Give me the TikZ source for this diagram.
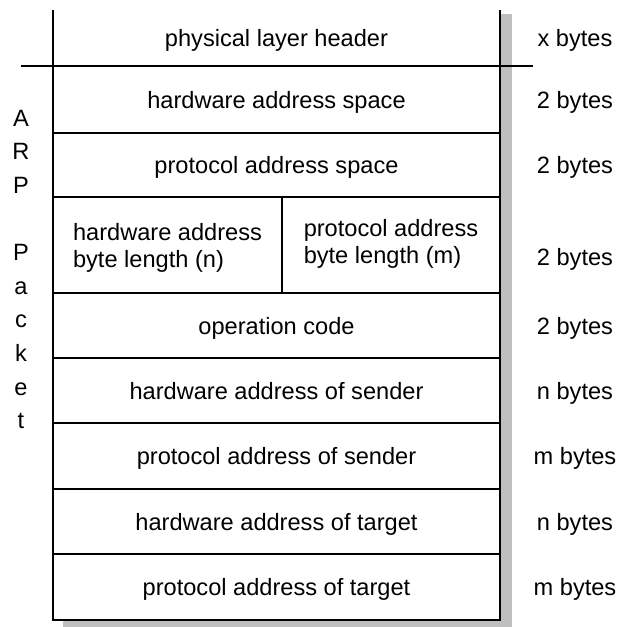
\documentclass[tikz,border=0pt]{standalone}
\usepackage{fontspec}
\setmainfont{Liberation Sans}
\usetikzlibrary{positioning}

\begin{document}
\begin{tikzpicture}[
  font=\fontsize{23.6}{27}\selectfont,
  field/.style={rectangle,draw,fill=white,line width=1.5pt,inner sep=0pt,outer sep=0pt,minimum width=447pt,align=center,text depth=0pt},
  half/.style={field,minimum height=96pt,align=left},
  bytes/.style={inner sep=0pt,text depth=0pt},
  shade/.style={fill=black!25},
  rule/.style={line width=1.5pt}
]
\useasboundingbox (0,0) rectangle (622pt,-627pt);
\coordinate (sizecol) at (575pt,0);
\fill[shade] (63pt,-14pt) rectangle (512pt,-627pt);
\node[field,draw=none,minimum height=56pt] (hdr) at (276.5pt,-38pt) {physical layer header};
\node[field,minimum height=67pt,below=0pt of hdr] (hwspace) {hardware address space};
\node[field,minimum height=64pt,below=0pt of hwspace] (prspace) {protocol address space};
\node[half,minimum width=229pt,below right=0pt and 0pt of prspace.south west] (hwlen) {hardware address\\byte length (n)};
\node[half,minimum width=218pt,text depth=8pt,right=0pt of hwlen] (prlen) {protocol address\\byte length (m)};
\node[field,minimum height=65pt,below right=0pt and 0pt of hwlen.south west] (opcode) {operation code};
\node[field,minimum height=65pt,below=0pt of opcode] (hwsend) {hardware address of sender};
\node[field,minimum height=66pt,below=0pt of hwsend] (prsend) {protocol address of sender};
\node[field,minimum height=65pt,below=0pt of prsend] (hwtarg) {hardware address of target};
\node[field,minimum height=66pt,below=0pt of hwtarg] (prtarg) {protocol address of target};
% header has only side walls, the rule runs past both of them
\draw[rule] (hdr.north west) -- (hdr.south west);
\draw[rule] (hdr.north east) -- (hdr.south east);
\draw[rule] ([xshift=-32pt]hdr.south west) -- ([xshift=33pt]hdr.south east);
% sizes
\node[bytes] (xsize) at (hdr -| sizecol) {x bytes};
\node[bytes] (hwspacesize) at (hwspace -| sizecol) {2 bytes};
\node[bytes] (prspacesize) at (prspace -| sizecol) {2 bytes};
\node[bytes,yshift=-12pt] (lensize) at (hwlen -| sizecol) {2 bytes};
\node[bytes] (opsize) at (opcode -| sizecol) {2 bytes};
\node[bytes] (hwsendsize) at (hwsend -| sizecol) {n bytes};
\node[bytes] (prsendsize) at (prsend -| sizecol) {m bytes};
\node[bytes] (hwtargsize) at (hwtarg -| sizecol) {n bytes};
\node[bytes] (prtargsize) at (prtarg -| sizecol) {m bytes};
\node[align=center,inner sep=0pt,font=\fontsize{23.6}{33.6}\selectfont] (arp) at (21pt,-269.5pt) {A\\R\\P\\ \\P\\a\\c\\k\\e\\t};
\end{tikzpicture}
\end{document}
